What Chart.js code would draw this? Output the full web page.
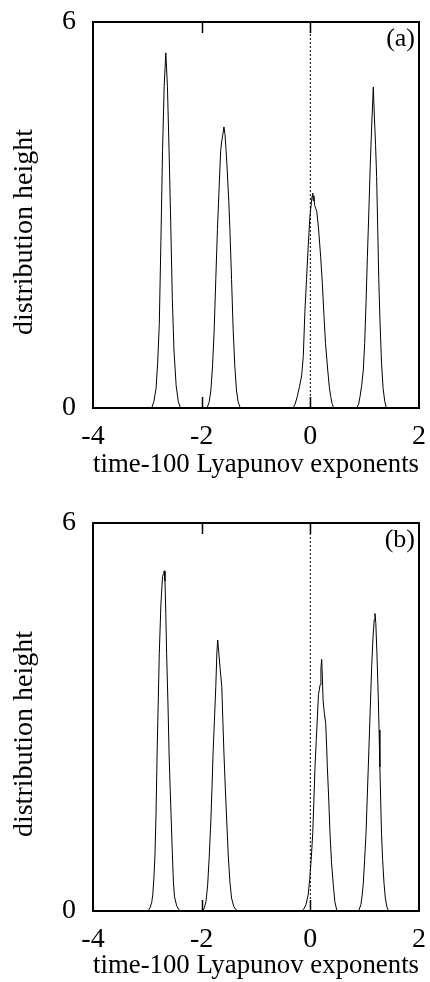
<!DOCTYPE html>
<html><head><meta charset="utf-8">
<script src="https://cdn.jsdelivr.net/npm/chart.js@4.4.1/dist/chart.umd.min.js"></script>
<style>
html,body{margin:0;padding:0;background:#fff;}
body{width:430px;height:982px;position:relative;overflow:hidden;}
.panel{position:absolute;left:0;width:430px;height:481px;}
</style></head><body>
<div class="panel" style="top:0"><canvas id="ca" width="430" height="481"></canvas></div>
<div class="panel" style="top:501px"><canvas id="cb" width="430" height="481"></canvas></div>
<script>
// ---- data ----
const xTicks = [-4, -2, 0, 2];
const yTicks = [0, 6];
const xTitle = 'time-100 Lyapunov exponents';
const yTitle = 'distribution height';
const panelLabels = ['(a)', '(b)'];

// panel (a): x positions and distribution heights
const xA = [-4,
  -2.92, -2.88, -2.84, -2.81, -2.78, -2.75, -2.72, -2.69, -2.66, -2.63, -2.60, -2.57, -2.54, -2.51, -2.47, -2.43, -2.39,
  -1.90, -1.86, -1.83, -1.80, -1.77, -1.74, -1.71, -1.68, -1.65, -1.63, -1.61, -1.59, -1.57, -1.55, -1.53, -1.50, -1.48, -1.45, -1.42, -1.39, -1.36, -1.33, -1.29,
  -0.32, -0.28, -0.24, -0.20, -0.16, -0.13, -0.10, -0.07, -0.04, -0.01, 0.02, 0.035, 0.044, 0.055, 0.065, 0.08, 0.10, 0.12, 0.15, 0.19, 0.22, 0.25, 0.28, 0.32, 0.35, 0.375, 0.40, 0.43,
  0.85, 0.89, 0.915, 0.945, 0.975, 1.00, 1.025, 1.05, 1.075, 1.10, 1.13, 1.159, 1.18, 1.20, 1.22, 1.24, 1.26, 1.28, 1.31, 1.34, 1.37, 1.40,
  2];
const yA = [0,
  0, 0.1, 0.3, 0.7, 1.3, 2.6, 4.0, 5.0, 5.52, 5.0, 4.0, 2.9, 1.7, 0.9, 0.35, 0.1, 0,
  0, 0.1, 0.28, 0.65, 1.21, 2.0, 2.77, 3.4, 4.0, 4.15, 4.25, 4.37, 4.25, 4.0, 3.7, 3.2, 2.77, 2.0, 1.21, 0.65, 0.28, 0.1, 0,
  0, 0.06, 0.18, 0.33, 0.5, 0.8, 1.5, 2.0, 2.5, 2.95, 3.2, 3.3, 3.34, 3.22, 3.3, 3.15, 3.1, 3.05, 2.8, 2.35, 1.95, 1.45, 1.0, 0.59, 0.32, 0.18, 0.07, 0,
  0, 0.06, 0.18, 0.35, 0.59, 1.0, 1.63, 2.35, 3.0, 3.7, 4.4, 4.99, 4.5, 4.1, 3.6, 2.8, 2.0, 1.4, 0.7, 0.3, 0.1, 0,
  0];

// panel (b)
const xB = [-4,
  -2.99, -2.95, -2.92, -2.90, -2.88, -2.86, -2.84, -2.82, -2.80, -2.78, -2.75, -2.72, -2.70, -2.688, -2.675, -2.66, -2.645, -2.62, -2.60, -2.58, -2.56, -2.54, -2.52, -2.50, -2.46, -2.42, -2.37,
  -1.98, -1.95, -1.92, -1.89, -1.86, -1.83, -1.81, -1.79, -1.765, -1.74, -1.72, -1.705, -1.69, -1.66, -1.63, -1.61, -1.59, -1.565, -1.54, -1.51, -1.48, -1.45, -1.41, -1.37, -1.33,
  -0.16, -0.12, -0.08, -0.04, -0.01, 0.02, 0.044, 0.065, 0.086, 0.11, 0.13, 0.15, 0.165, 0.18, 0.195, 0.209, 0.222, 0.235, 0.258, 0.283, 0.30, 0.313, 0.34, 0.362, 0.39, 0.423, 0.45, 0.49,
  0.89, 0.93, 0.955, 0.975, 1.00, 1.025, 1.045, 1.067, 1.09, 1.11, 1.13, 1.155, 1.175, 1.19, 1.205, 1.225, 1.25, 1.265, 1.28, 1.295, 1.31, 1.33, 1.356, 1.38, 1.41, 1.44,
  2];
const yB = [0,
  0, 0.05, 0.13, 0.25, 0.5, 0.85, 1.5, 2.44, 3.2, 3.98, 4.75, 5.17, 5.22, 5.26, 5.1, 4.6, 3.98, 3.2, 2.44, 1.9, 1.41, 0.9, 0.45, 0.22, 0.08, 0.02, 0,
  0, 0.05, 0.15, 0.4, 0.85, 1.41, 1.9, 2.44, 2.95, 3.47, 4.0, 4.19, 4.05, 3.75, 3.47, 2.95, 2.44, 1.9, 1.41, 0.85, 0.45, 0.2, 0.07, 0.02, 0,
  0, 0.03, 0.1, 0.25, 0.5, 0.85, 1.2, 1.7, 2.23, 2.65, 3.0, 3.35, 3.42, 3.5, 3.75, 3.89, 3.6, 3.25, 3.06, 2.9, 2.55, 2.23, 1.7, 1.2, 0.75, 0.4, 0.15, 0,
  0, 0.1, 0.25, 0.43, 0.8, 1.2, 1.7, 2.23, 2.8, 3.31, 3.8, 4.25, 4.5, 4.6, 4.45, 4.0, 3.31, 2.8, 2.23, 1.7, 1.2, 0.8, 0.43, 0.2, 0.06, 0,
  0];

// ---- chart setup ----
const FONT = '"Liberation Serif", "Times New Roman", Times, serif';
Chart.defaults.font.family = FONT;
Chart.defaults.font.size = 28;
Chart.defaults.color = '#000';

const framePlugin = {
  id: 'frame',
  afterDatasetsDraw(chart, args, opts) {
    const {ctx, chartArea: a, scales} = chart;
    ctx.save();
    ctx.strokeStyle = '#000';
    ctx.lineWidth = 2;
    ctx.strokeRect(a.left, a.top, a.right - a.left, a.bottom - a.top);
    ctx.lineWidth = 1.5;
    xTicks.forEach(v => {
      const px = Math.round(scales.x.getPixelForValue(v)) + 0.5;
      if (px <= a.left + 2 || px >= a.right - 2) return;
      ctx.beginPath();
      ctx.moveTo(px, a.top); ctx.lineTo(px, a.top + 11);
      ctx.moveTo(px, a.bottom); ctx.lineTo(px, a.bottom - 11);
      ctx.stroke();
    });
    ctx.fillStyle = '#000';
    ctx.font = '26px ' + FONT;
    ctx.textAlign = 'right';
    ctx.textBaseline = 'alphabetic';
    ctx.fillText(opts.label, a.right - 4, a.top + 24);
    ctx.font = '28px ' + FONT;
    ctx.translate(32, (a.top + a.bottom) / 2 + 17);
    ctx.rotate(-Math.PI / 2);
    ctx.textAlign = 'center';
    ctx.fillText(yTitle, 0, 0);
    ctx.restore();
  }
};

function zeroPad(s) { s.paddingTop = 0; s.paddingBottom = 0; s.paddingLeft = 0; s.paddingRight = 0; }

function makeChart(id, xs, ys, label, bottomPx) {
  const pts = xs.map((x, i) => ({x, y: ys[i]}));
  return new Chart(document.getElementById(id), {
    type: 'line',
    data: {
      datasets: [
        {data: pts, borderColor: '#000', borderWidth: 1, pointRadius: 0, tension: 0, fill: false},
        {data: [{x: 0, y: 0}, {x: 0, y: 6}], borderColor: '#000', borderWidth: 1, borderDash: [2, 2], pointRadius: 0}
      ]
    },
    options: {
      responsive: false,
      devicePixelRatio: 1,
      animation: false,
      events: [],
      layout: {padding: {top: 22, right: 11, left: 0, bottom: 0}},
      plugins: {legend: {display: false}, tooltip: {enabled: false}, frame: {label}},
      scales: {
        x: {
          type: 'linear', min: -4, max: 2,
          afterBuildTicks: s => { s.ticks = xTicks.map(v => ({value: v})); },
          afterFit: s => { s.height = 481 - bottomPx; zeroPad(s); },
          grid: {display: false, drawTicks: false},
          border: {display: false},
          ticks: {padding: 12, maxRotation: 0, autoSkip: false, callback: v => String(v)},
          title: {display: true, text: xTitle, padding: {top: 0, bottom: 0}}
        },
        y: {
          type: 'linear', min: 0, max: 6,
          afterBuildTicks: s => { s.ticks = yTicks.map(v => ({value: v})); },
          afterFit: s => { s.width = 93; zeroPad(s); },
          grid: {display: false, drawTicks: false},
          border: {display: false},
          ticks: {padding: 17, callback: v => String(v)}
        }
      }
    },
    plugins: [framePlugin]
  });
}

makeChart('ca', xA, yA, panelLabels[0], 408);
makeChart('cb', xB, yB, panelLabels[1], 410);
</script>
</body></html>
